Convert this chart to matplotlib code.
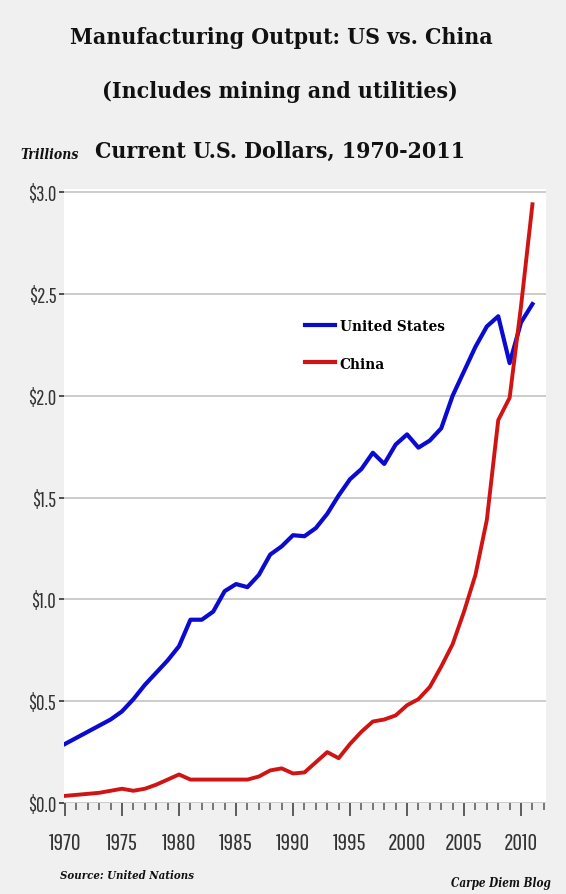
import matplotlib
matplotlib.use("Agg")
import matplotlib.pyplot as plt
from matplotlib.ticker import MultipleLocator, FuncFormatter

# data (trillions of current US dollars)
years = list(range(1970, 2012))
us_output = [0.29, 0.32, 0.35, 0.38, 0.41, 0.45, 0.51, 0.58, 0.64, 0.70,
             0.77, 0.90, 0.90, 0.94, 1.04, 1.075, 1.06, 1.12, 1.22, 1.26,
             1.315, 1.31, 1.35, 1.42, 1.51, 1.59, 1.64, 1.72, 1.665, 1.76,
             1.81, 1.745, 1.78, 1.84, 2.00, 2.12, 2.24, 2.34, 2.39, 2.16,
             2.36, 2.45]
china_output = [0.035, 0.04, 0.045, 0.05, 0.06, 0.07, 0.06, 0.07, 0.09, 0.115,
                0.14, 0.115, 0.115, 0.115, 0.115, 0.115, 0.115, 0.13, 0.16, 0.17,
                0.145, 0.15, 0.20, 0.25, 0.22, 0.29, 0.35, 0.40, 0.41, 0.43,
                0.48, 0.51, 0.57, 0.67, 0.78, 0.94, 1.12, 1.39, 1.88, 1.99,
                2.44, 2.94]
series_names = ["United States", "China"]
title_lines = ["Manufacturing Output: US vs. China",
               "(Includes mining and utilities)",
               "Current U.S. Dollars, 1970-2011"]

serif_cond = dict(family=["DejaVu Serif"], fontstretch="condensed", fontweight="bold")
tick_font = ["Pathway Gothic One", "Liberation Sans Narrow", "DejaVu Sans"]

fig = plt.figure(figsize=(5.66, 8.95), dpi=100, facecolor="#f0f0f0")
ax = fig.add_axes([64/566, 91/895, 482/566, 614/895])
ax.set_facecolor("white")

ax.plot(years, us_output, color="#0a0ad0", lw=3.0, label=series_names[0], solid_joinstyle="round", zorder=3)
ax.plot(years, china_output, color="#d01414", lw=2.8, label=series_names[1], solid_joinstyle="round", zorder=3)

ax.set_xlim(1969.91, 2012.19)
ax.set_ylim(0, 3.015)
ax.yaxis.set_major_locator(MultipleLocator(0.5))
ax.yaxis.set_major_formatter(FuncFormatter(lambda v, p: f"${v:.1f}"))
ax.xaxis.set_major_locator(MultipleLocator(5))
ax.xaxis.set_minor_locator(MultipleLocator(1))
ax.grid(axis="y", color="#c8c8c8", lw=1.3, zorder=1)

for s in ax.spines.values():
    s.set_visible(False)

ax.tick_params(axis="y", length=3.5, width=1.2, color="#333333", pad=2, labelsize=15)
ax.tick_params(axis="x", which="major", length=9, width=1.1, color="#333333", pad=12, labelsize=17)
ax.tick_params(axis="x", which="minor", length=5, width=1.1, color="#555555")
for lab in ax.get_xticklabels() + ax.get_yticklabels():
    lab.set_family(tick_font)
    lab.set_color("#333333")

leg = ax.legend(loc="upper left", bbox_to_anchor=(305/566, 1 - 320/895), bbox_transform=fig.transFigure,
                frameon=False, handlelength=1.95, handletextpad=0.33, labelspacing=1.55, borderpad=0,
                borderaxespad=0, prop=dict(family="DejaVu Serif", stretch="condensed", weight="bold", size=11))
for h in leg.get_lines():
    h.set_linewidth(3.0)

fig.text(281/566, 1 - 38/895, title_lines[0], ha="center", va="center", size=16.5, color="#111111", **serif_cond)
fig.text(280/566, 1 - 92/895, title_lines[1], ha="center", va="center", size=16.5, color="#111111", **serif_cond)
fig.text(280/566, 1 - 152/895, title_lines[2], ha="center", va="center", size=16.5, color="#111111", **serif_cond)

fig.text(20/566, 1 - 155/895, "Trillions", ha="left", va="center", size=10, color="#111111",
         family="DejaVu Serif", fontstretch="condensed", fontweight="bold", style="italic")
fig.text(60/566, 1 - 876/895, "Source: United Nations", ha="left", va="center", size=8.2, color="#111111",
         family="DejaVu Serif", fontstretch="condensed", fontweight="bold", style="italic")
fig.text(551/566, 1 - 884/895, "Carpe Diem Blog", ha="right", va="center", size=8.4, color="#111111",
         family="DejaVu Serif", fontstretch="condensed", fontweight="bold", style="italic")

fig.savefig("out.png", dpi=100, facecolor=fig.get_facecolor())
